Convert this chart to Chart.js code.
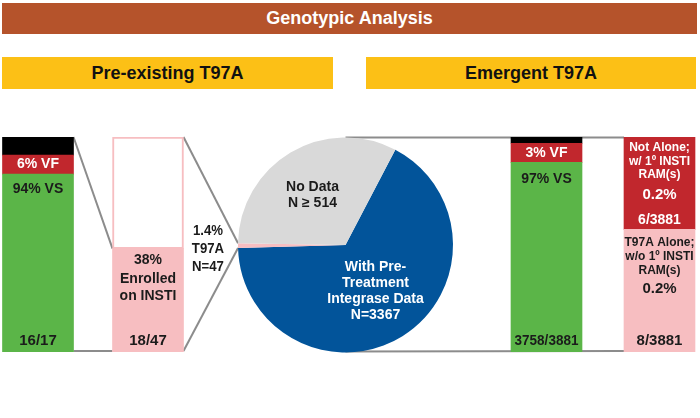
<!DOCTYPE html>
<html>
<head>
<meta charset="utf-8">
<script src="https://cdn.jsdelivr.net/npm/chart.js@4.4.1/dist/chart.umd.min.js"></script>
<style>
  html, body { margin: 0; padding: 0; background: #fff; }
  #wrap { position: relative; width: 700px; height: 418px; overflow: hidden;
          font-family: "Liberation Sans", Arial, sans-serif; font-weight: bold; }
  .band { position: absolute; display: flex; align-items: center; justify-content: center; }
  #title { left: 2px; top: 3px; width: 695px; height: 31px; background: #b5532b; color: #fff; font-size: 18px; }
  .sub { top: 57px; height: 32px; background: #fcc016; color: #111; font-size: 18px; }
  canvas { position: absolute; }
</style>
</head>
<body>
<div id="wrap">
  <div id="title" class="band">Genotypic Analysis</div>
  <div class="band sub" style="left:2px;width:331px">Pre-existing T97A</div>
  <div class="band sub" style="left:366px;width:330px">Emergent T97A</div>
  <canvas id="pieChart" width="700" height="418" style="left:0;top:0"></canvas>
  <canvas id="preChart" width="220" height="215" style="left:-17px;top:137px"></canvas>
  <canvas id="emgChart" width="226" height="215" style="left:490px;top:137px"></canvas>
</div>
<script>
// segment heights as drawn (share of bar height)
const preCategories = ["Virologic outcome", "Enrolled on INSTI"];
const preVS = [82.7, null];
const preVF = [8.9, null];
const preOther = [8.4, null];
const preInsti = [null, 48.1];
const preNoInsti = [null, 51.9];
const preFractions = ["16/17", "18/47"];

const emgCategories = ["Virologic outcome", "T97A at failure"];
const emgVS = [88.2, null];
const emgVF = [8.9, null];
const emgOther = [2.9, null];
const emgAlone = [null, 57];
const emgNotAlone = [null, 43];
const emgFractions = ["3758/3881", "8/3881"];

const pieLabels = ["With Pre-Treatment Integrase Data", "T97A", "No Data"];
const pieShares = [66.9, 0.7, 32.4];
const noDataNote = ["No Data", "N \u2265 514"];
const withDataNote = ["With Pre-", "Treatment", "Integrase Data", "N=3367"];
const t97aNote = ["1.4%", "T97A", "N=47"];

const GREEN = "#5bb548", RED = "#c1272d", PINK = "#f7bec1", BLUE = "#02549a", GREY = "#d9d9d9";
const DARK = "#1b1b1b";
const FONT = '"Liberation Sans", Arial, sans-serif';

function drawText(ctx, text, x, y, size, color, squeeze) {
  ctx.save();
  ctx.font = `bold ${size}px ${FONT}`;
  ctx.fillStyle = color;
  ctx.textAlign = "center";
  ctx.textBaseline = "middle";
  ctx.translate(x, y);
  ctx.scale(squeeze || 1, 1);
  ctx.fillText(text, 0, 0);
  ctx.restore();
}

function makeNotes(items) {
  return {
    id: "barNotes",
    afterDatasetsDraw(chart) {
      const { ctx } = chart;
      items.forEach((n) => {
        const el = chart.getDatasetMeta(n.ds).data[n.i];
        const top = Math.min(el.y, el.base);
        const bottom = Math.max(el.y, el.base);
        let y = (top + bottom) / 2;
        if (n.at === "top") y = top + n.dy;
        if (n.at === "base") y = bottom + n.dy;
        drawText(ctx, n.text, el.x, y, n.size, n.color, n.squeeze);
      });
    },
  };
}

function makeBars(canvasId, labels, datasets, notes) {
  return new Chart(document.getElementById(canvasId), {
    type: "bar",
    data: { labels, datasets },
    options: {
      responsive: false,
      animation: false,
      layout: { padding: 0 },
      datasets: { bar: { categoryPercentage: 1, barThickness: 71, borderWidth: 0 } },
      scales: {
        x: { stacked: true, display: false },
        y: { stacked: true, display: false, min: 0, max: 100 },
      },
      plugins: { legend: { display: false }, tooltip: { enabled: false } },
    },
    plugins: [makeNotes(notes)],
  });
}

const preChart = makeBars("preChart", preCategories, [
  { label: "VS", data: preVS, backgroundColor: GREEN },
  { label: "VF", data: preVF, backgroundColor: RED },
  { label: "Other", data: preOther, backgroundColor: "#000" },
  { label: "Enrolled on INSTI", data: preInsti, backgroundColor: PINK },
  { label: "Not on INSTI", data: preNoInsti, backgroundColor: "#fff",
    borderColor: PINK, borderWidth: 2, borderSkipped: false },
], [
  { ds: 1, i: 0, at: "mid", dy: 0, text: "6% VF", size: 14, color: "#fff" },
  { ds: 0, i: 0, at: "top", dy: 15, text: "94% VS", size: 14, color: DARK },
  { ds: 0, i: 0, at: "base", dy: -11, text: preFractions[0], size: 15, color: DARK },
  { ds: 3, i: 1, at: "top", dy: 12, text: "38%", size: 14, color: DARK },
  { ds: 3, i: 1, at: "top", dy: 31, text: "Enrolled", size: 14, color: DARK },
  { ds: 3, i: 1, at: "top", dy: 48, text: "on INSTI", size: 14, color: DARK },
  { ds: 3, i: 1, at: "base", dy: -11, text: preFractions[1], size: 15, color: DARK },
]);

const emgChart = makeBars("emgChart", emgCategories, [
  { label: "VS", data: emgVS, backgroundColor: GREEN },
  { label: "VF", data: emgVF, backgroundColor: RED },
  { label: "Other", data: emgOther, backgroundColor: "#000" },
  { label: "T97A alone", data: emgAlone, backgroundColor: PINK },
  { label: "Not alone", data: emgNotAlone, backgroundColor: RED },
], [
  { ds: 1, i: 0, at: "mid", dy: 0, text: "3% VF", size: 14, color: "#fff" },
  { ds: 0, i: 0, at: "top", dy: 17, text: "97% VS", size: 14, color: DARK },
  { ds: 0, i: 0, at: "base", dy: -11, text: emgFractions[0], size: 15, color: DARK, squeeze: 0.9 },
  { ds: 4, i: 1, at: "top", dy: 11, text: "Not Alone;", size: 12, color: "#fff" },
  { ds: 4, i: 1, at: "top", dy: 25, text: "w/ 1\u00ba INSTI", size: 12, color: "#fff" },
  { ds: 4, i: 1, at: "top", dy: 38, text: "RAM(s)", size: 12, color: "#fff" },
  { ds: 4, i: 1, at: "top", dy: 58, text: "0.2%", size: 15, color: "#fff" },
  { ds: 4, i: 1, at: "top", dy: 83, text: "6/3881", size: 14, color: "#fff" },
  { ds: 3, i: 1, at: "top", dy: 13, text: "T97A Alone;", size: 12, color: DARK },
  { ds: 3, i: 1, at: "top", dy: 27, text: "w/o 1\u00ba INSTI", size: 12, color: DARK },
  { ds: 3, i: 1, at: "top", dy: 41, text: "RAM(s)", size: 12, color: DARK },
  { ds: 3, i: 1, at: "top", dy: 59, text: "0.2%", size: 15, color: DARK },
  { ds: 3, i: 1, at: "base", dy: -11, text: emgFractions[1], size: 15, color: DARK },
]);

function barBox(chart, ds, i, ref) {
  const el = chart.getDatasetMeta(ds).data[i];
  const a = chart.canvas.getBoundingClientRect();
  const dx = a.left - ref.left, dy = a.top - ref.top;
  return {
    left: el.x - el.width / 2 + dx,
    right: el.x + el.width / 2 + dx,
    top: Math.min(el.y, el.base) + dy,
    base: Math.max(el.y, el.base) + dy,
  };
}

const connectors = {
  id: "connectors",
  beforeDatasetsDraw(chart) {
    const { ctx } = chart;
    const ref = chart.canvas.getBoundingClientRect();
    const pink = chart.getDatasetMeta(0).data[1];
    const cx = pink.x, cy = pink.y, r = pink.outerRadius;
    const b1 = barBox(preChart, 2, 0, ref);
    const b2pink = barBox(preChart, 3, 1, ref);
    const b2 = barBox(preChart, 4, 1, ref);
    const b4 = barBox(emgChart, 3, 1, ref);
    const line = (x1, y1, x2, y2) => {
      ctx.beginPath();
      ctx.moveTo(x1, y1);
      ctx.lineTo(x2, y2);
      ctx.stroke();
    };
    ctx.save();
    ctx.strokeStyle = "#8c8c8c";
    ctx.lineWidth = 2;
    line(b1.right, b1.top, b2pink.left, b2pink.top);
    line(b1.right, b2pink.base - 1, b2pink.left, b2pink.base - 1);
    line(b2.right, b2.top, cx + r * Math.cos(pink.endAngle), cy + r * Math.sin(pink.endAngle));
    line(b2.right, b2pink.base - 1, cx + r * Math.cos(pink.startAngle), cy + r * Math.sin(pink.startAngle));
    line(cx, cy - r, b4.left, cy - r);
    line(cx, cy + r - 1, b4.left, b4.base - 1);
    ctx.restore();
  },
  afterDatasetsDraw(chart) {
    const { ctx } = chart;
    const arc = chart.getDatasetMeta(0).data[0];
    const cx = arc.x, cy = arc.y, r = arc.outerRadius;
    noDataNote.forEach((t, k) => drawText(ctx, t, cx - 33, cy - 58 + k * 16.5, 14, DARK));
    withDataNote.forEach((t, k) => drawText(ctx, t, cx + 30, cy + 22 + k * 16.2, 14, "#fff"));
    t97aNote.forEach((t, k) => drawText(ctx, t, cx - r - 30, cy - 14 + k * 18, 15, DARK, 0.88));
  },
};

new Chart(document.getElementById("pieChart"), {
  type: "pie",
  data: {
    labels: pieLabels,
    datasets: [{ data: pieShares, backgroundColor: [BLUE, PINK, GREY], borderWidth: 0 }],
  },
  options: {
    responsive: false,
    animation: false,
    rotation: 27.6,
    layout: { padding: { left: 238, right: 247, top: 137.5, bottom: 65.5 } },
    plugins: { legend: { display: false }, tooltip: { enabled: false } },
  },
  plugins: [connectors],
});
</script>
</body>
</html>
